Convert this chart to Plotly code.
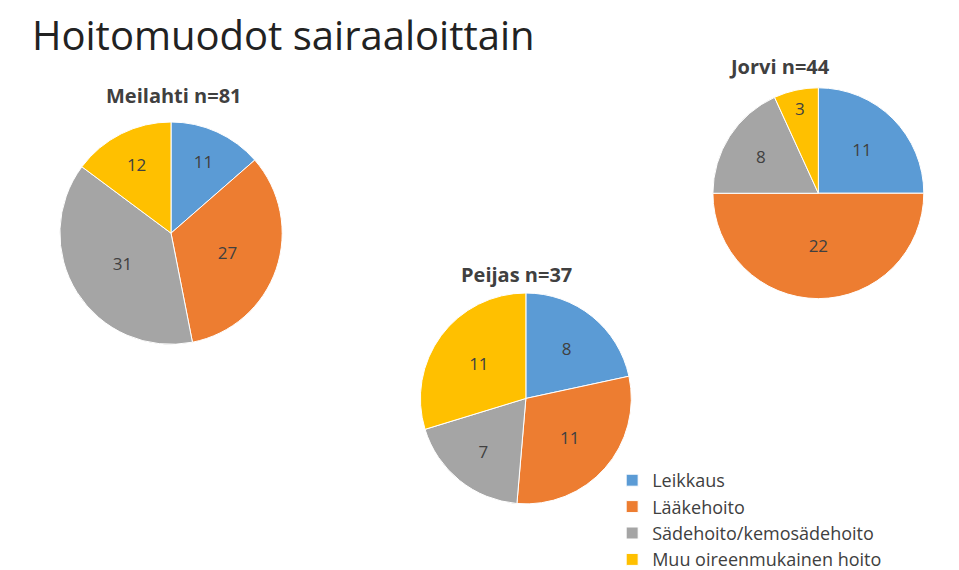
import plotly.graph_objects as go

labels = ["Leikkaus", "Lääkehoito", "Sädehoito/kemosädehoito", "Muu oireenmukainen hoito"]
colors = ["#5B9BD5", "#ED7D31", "#A5A5A5", "#FFC000"]
meilahti = [11, 27, 31, 12]
peijas = [8, 11, 7, 11]
jorvi = [11, 22, 8, 3]

fig = go.Figure()
def add(vals, dx, dy, show):
    fig.add_trace(go.Pie(labels=labels, values=vals, sort=False, direction="clockwise",
                         rotation=0, textinfo="value", textposition="inside",
                         insidetextfont=dict(size=17, color="#404040"),
                         marker=dict(colors=colors, line=dict(color="white", width=1)),
                         domain=dict(x=dx, y=dy), showlegend=show, hoverinfo="label+value"))
add(meilahti, [0.05, 0.29], [0.41, 0.80], True)
add(peijas, [0.43, 0.65], [0.13, 0.50], False)
add(jorvi, [0.735, 0.955], [0.49, 0.86], False)

for t, x, y in [("Meilahti n=81", 0.10, 0.82), ("Peijas n=37", 0.47, 0.505), ("Jorvi n=44", 0.75, 0.87)]:
    fig.add_annotation(text="<b>"+t+"</b>", x=x, y=y, xref="paper", yref="paper",
                       showarrow=False, xanchor="center" if False else "left", yanchor="bottom",
                       font=dict(size=20, color="#404040"))

fig.update_layout(
    width=959, height=570, margin=dict(l=0, r=0, t=0, b=0),
    paper_bgcolor="white", font=dict(family="Open Sans, Liberation Sans", color="#404040"),
    title=dict(text="Hoitomuodot sairaaloittain", x=0.025, y=0.975, xanchor="left", yanchor="top",
               font=dict(size=40, color="#222222")),
    legend=dict(x=0.63, y=0.0, xanchor="left", yanchor="bottom", font=dict(size=18),
                traceorder="normal", itemwidth=30),
)
fig.write_html("out.html")
